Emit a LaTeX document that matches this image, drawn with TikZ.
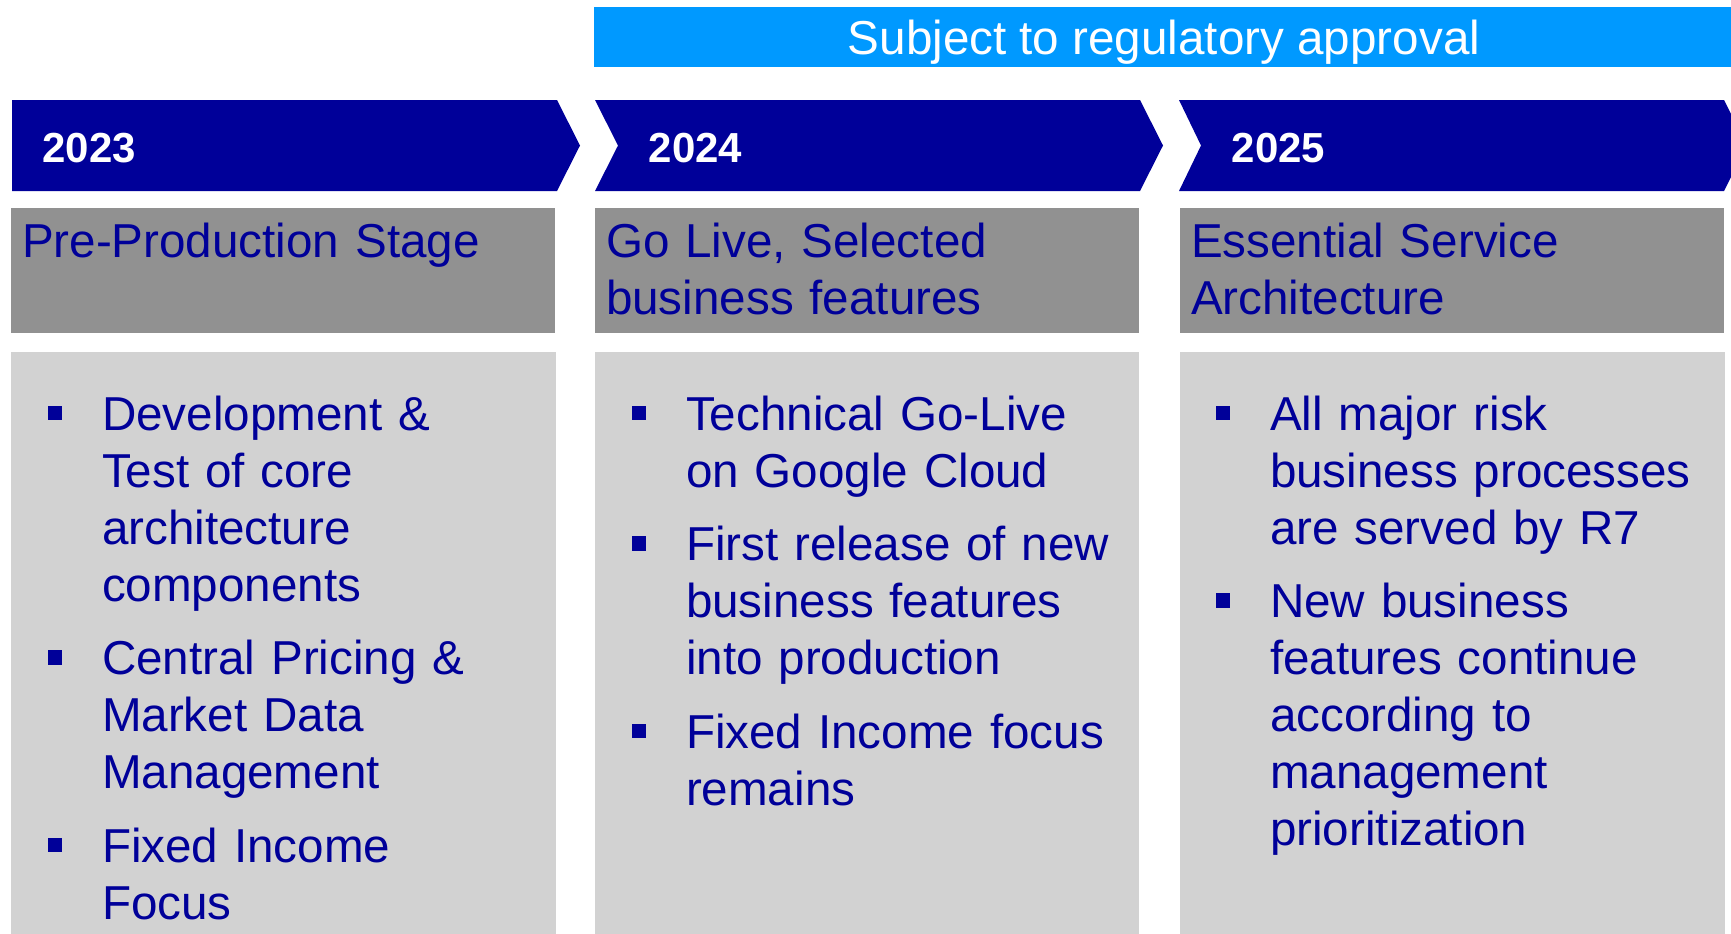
\documentclass[tikz,border=0pt]{standalone}
\usepackage{fontspec}
\setmainfont{Liberation Sans}
\usepackage{tikz}
\usetikzlibrary{positioning}

\definecolor{rsnavy}{RGB}{0,0,153}
\definecolor{rssky}{RGB}{0,153,255}
\definecolor{headgray}{RGB}{145,145,145}
\definecolor{bodygray}{RGB}{210,210,210}

\newcommand{\stagefont}{\fontsize{23.8pt}{28.5pt}\selectfont}
\newcommand{\bul}{\llap{\rule[5pt]{7.25pt}{7.25pt}\hspace{20pt}}}

\begin{document}
\begin{tikzpicture}[
                x = 0.5pt,
                y = -0.5pt,
                yearbar/.style = {fill=rsnavy},
                stagehead/.style = {fill=headgray},
                stagebody/.style = {fill=bodygray},
                yearlabel/.style = {
                    anchor = base west,
                    inner sep = 0pt,
                    text = white,
                    font = \fontsize{21pt}{25pt}\selectfont\bfseries
                },
                stagetext/.style = {
                    anchor = base west,
                    inner sep = 0pt,
                    outer sep = 0pt,
                    text = rsnavy,
                    align = left,
                    text width = #1,
                    font = \stagefont,
                    execute at begin node = \strut,
                    execute at end node = \strut
                },
                stagetext/.default = 220pt,
                node distance = {8.25pt}
            ]
            \clip (0,0) rectangle (1731,933);
            % 
            \fill[rssky] (594,7) rectangle (1731,67);
            \node[anchor=base, inner sep=0pt, text=white, font=\stagefont] (approval) at (1164,54) {Subject to regulatory approval};
            % 
            \fill[yearbar] (12,100) -- (557,100) -- (580,145.5) -- (557,191) -- (12,191) -- cycle;
            \fill[yearbar] (595,100) -- (1140,100) -- (1163,145.5) -- (1140,191) -- (595,191) -- (618,145.5) -- cycle;
            \fill[yearbar] (1179,100) -- (1724,100) -- (1747,145.5) -- (1724,191) -- (1179,191) -- (1201,145.5) -- cycle;
            % 
            \node[yearlabel] (y1) at (42,162.3) {2023};
            \node[yearlabel] (y2) at (648.5,162.3) {2024};
            \node[yearlabel] (y3) at (1231.5,162.3) {2025};
            % 
            \fill[stagehead] (11,208) rectangle (555,333);
            \fill[stagehead] (595,208) rectangle (1139,333);
            \fill[stagehead] (1180,208) rectangle (1724,333);
            % 
            \fill[stagebody] (11,352) rectangle (556,940);
            \fill[stagebody] (595,352) rectangle (1139,940);
            \fill[stagebody] (1180,352) rectangle (1725,940);
            % 
            \node[stagetext=260pt] (h1) at (22,257.3) {Pre-Production Stage};
            \node[stagetext=260pt] (h2) at (606,257.3) {Go Live, Selected\\business features};
            \node[stagetext=260pt] (h3) at (1191,257.3) {Essential Service\\Architecture};
            % 
            \node[stagetext] (a1) at (102,430) {\bul Development \&\\Test of core\\architecture\\components};
            \node[stagetext, below=of a1] (a2) {\bul Central Pricing \&\\Market Data\\Management};
            \node[stagetext, below=of a2] (a3) {\bul Fixed Income\\Focus};
            % 
            \node[stagetext] (b1) at (686,430) {\bul Technical Go-Live\\on Google Cloud};
            \node[stagetext, below=of b1] (b2) {\bul First release of new\\business features\\into production};
            \node[stagetext, below=of b2] (b3) {\bul Fixed Income focus\\remains};
            % 
            \node[stagetext] (c1) at (1270,430) {\bul All major risk\\business processes\\are served by R7};
            \node[stagetext, below=of c1] (c2) {\bul New business\\features continue\\according to\\management\\prioritization};
            % 
        \end{tikzpicture}
\end{document}
